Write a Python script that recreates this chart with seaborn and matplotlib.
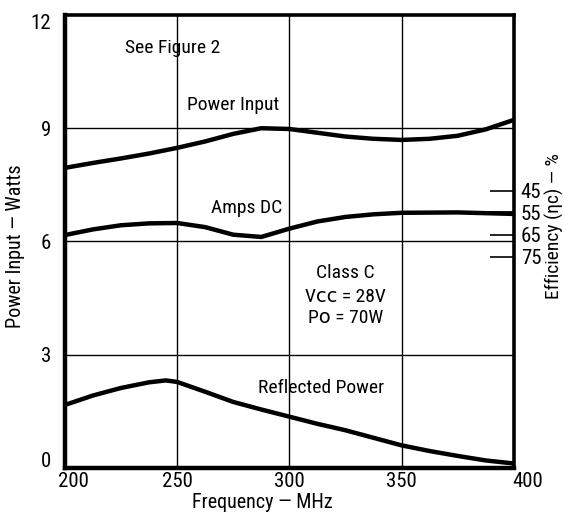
"""Power input, DC current and reflected power vs frequency (class C amplifier)."""

import matplotlib.pyplot as plt
import matplotlib.transforms as mtrans
import pandas as pd
import seaborn as sns
from matplotlib import font_manager

# --- data ------------------------------------------------------------------
power_freq = [200, 212.5, 225, 237.5, 250, 262.5, 275, 287.5, 300, 312.5,
              325, 337.5, 350, 362.5, 375, 387.5, 400]
power_input = [7.95, 8.08, 8.2, 8.33, 8.48, 8.65, 8.85, 9.0, 8.98, 8.88,
               8.78, 8.72, 8.69, 8.72, 8.8, 8.97, 9.22]

amps_freq = [200, 212.5, 225, 237.5, 250, 262.5, 275, 287.5, 300, 312.5,
             325, 337.5, 350, 375, 400]
amps_dc = [6.17, 6.32, 6.43, 6.48, 6.49, 6.38, 6.18, 6.12, 6.34, 6.53,
           6.65, 6.72, 6.76, 6.77, 6.73]

refl_freq = [200, 212.5, 225, 237.5, 245, 250, 262.5, 275, 287.5, 300,
             312.5, 325, 337.5, 350, 362.5, 375, 387.5, 400]
refl_power = [1.67, 1.92, 2.12, 2.27, 2.32, 2.28, 2.02, 1.75, 1.55, 1.36,
              1.17, 1.0, 0.8, 0.6, 0.45, 0.32, 0.2, 0.12]

x_ticks = [200, 250, 300, 350, 400]
y_ticks = [0, 3, 6, 9, 12]
eff_labels = ["45", "55", "65", "75"]
eff_tick_pos = [7.35, 6.78, 6.18, 5.6]   # efficiency scale, in left-axis units

sns.set_style("white")
# narrow Helvetica-like face if one is around
installed = {f.name for f in font_manager.fontManager.ttflist}
face = next((n for n in ["Liberation Sans Narrow", "DejaVu Sans Condensed",
                         "Roboto Condensed", "Liberation Sans"] if n in installed),
            "DejaVu Sans")
plt.rcParams["font.family"] = [face, "DejaVu Sans"]
plt.rcParams["text.color"] = "black"
plt.rcParams["axes.labelcolor"] = "black"

fig = plt.figure(figsize=(5.64, 5.16), dpi=100)
ax = fig.add_axes([0.115, 0.093, 0.796, 0.878])

for f, v in [(power_freq, power_input), (amps_freq, amps_dc), (refl_freq, refl_power)]:
    df = pd.DataFrame({"freq": f, "val": v})
    sns.lineplot(data=df, x="freq", y="val", ax=ax, color="black", linewidth=3.2)

ax.set_xlim(200, 400)
ax.set_ylim(0, 12)
ax.set_xticks(x_ticks)
ax.set_yticks(y_ticks)
for v in y_ticks[1:-1]:
    ax.axhline(v, color="black", linewidth=1.0, zorder=1)
for v in x_ticks[1:-1]:
    ax.axvline(v, color="black", linewidth=1.0, zorder=1)

ax.tick_params(axis="both", length=0, labelsize=15, colors="black")
ax.tick_params(axis="y", pad=10)
ax.tick_params(axis="x", pad=3)
for side in ["left", "bottom"]:
    ax.spines[side].set_linewidth(3.2)
for side in ["top", "right"]:
    ax.spines[side].set_linewidth(2.6)
for s in ax.spines.values():
    s.set_color("black")

# corner labels sit a little off their ticks in the original
fig.canvas.draw()
xl = ax.get_xticklabels()
xl[0].set_transform(xl[0].get_transform() + mtrans.ScaledTranslation(6 / 72, 0, fig.dpi_scale_trans))
xl[-1].set_transform(xl[-1].get_transform() + mtrans.ScaledTranslation(10 / 72, 0, fig.dpi_scale_trans))
yl = ax.get_yticklabels()
yl[0].set_transform(yl[0].get_transform() + mtrans.ScaledTranslation(0, 6 / 72, fig.dpi_scale_trans))
yl[-1].set_transform(yl[-1].get_transform() + mtrans.ScaledTranslation(0, -5 / 72, fig.dpi_scale_trans))

ax.set_xlabel("Frequency — MHz", fontsize=14.5)
ax.xaxis.set_label_coords(0.44, -0.056)
ax.set_ylabel("Power Input — Watts", fontsize=14.5)
ax.yaxis.set_label_coords(-0.088, 0.49)

# efficiency scale on the right
ax2 = ax.twinx()
ax2.set_ylim(0, 12)
ax2.set_yticks(eff_tick_pos)
ax2.set_yticklabels(eff_labels)
ax2.tick_params(axis="y", direction="in", length=17, width=1.2, pad=5,
                labelsize=15, colors="black")
for s in ax2.spines.values():
    s.set_visible(False)
ax2.set_ylabel("Efficiency (ηc) — %", fontsize=14)
ax2.yaxis.set_label_coords(1.068, 0.535)

# annotations
fs = 14
ax.text(248, 11.13, "See Figure 2", ha="center", va="center", fontsize=fs)
ax.text(275, 9.62, "Power Input", ha="center", va="center", fontsize=fs)
ax.text(281, 6.88, "Amps DC", ha="center", va="center", fontsize=fs)
ax.text(325, 5.17, "Class C", ha="center", va="center", fontsize=fs)
ax.text(325, 4.53, "Vᴄᴄ = 28V", ha="center", va="center", fontsize=fs)
ax.text(325, 3.97, "Pᴏ = 70W", ha="center", va="center", fontsize=fs)
ax.text(314, 2.12, "Reflected Power", ha="center", va="center", fontsize=fs)

fig.savefig("out.png", dpi=100)
plt.close(fig)
